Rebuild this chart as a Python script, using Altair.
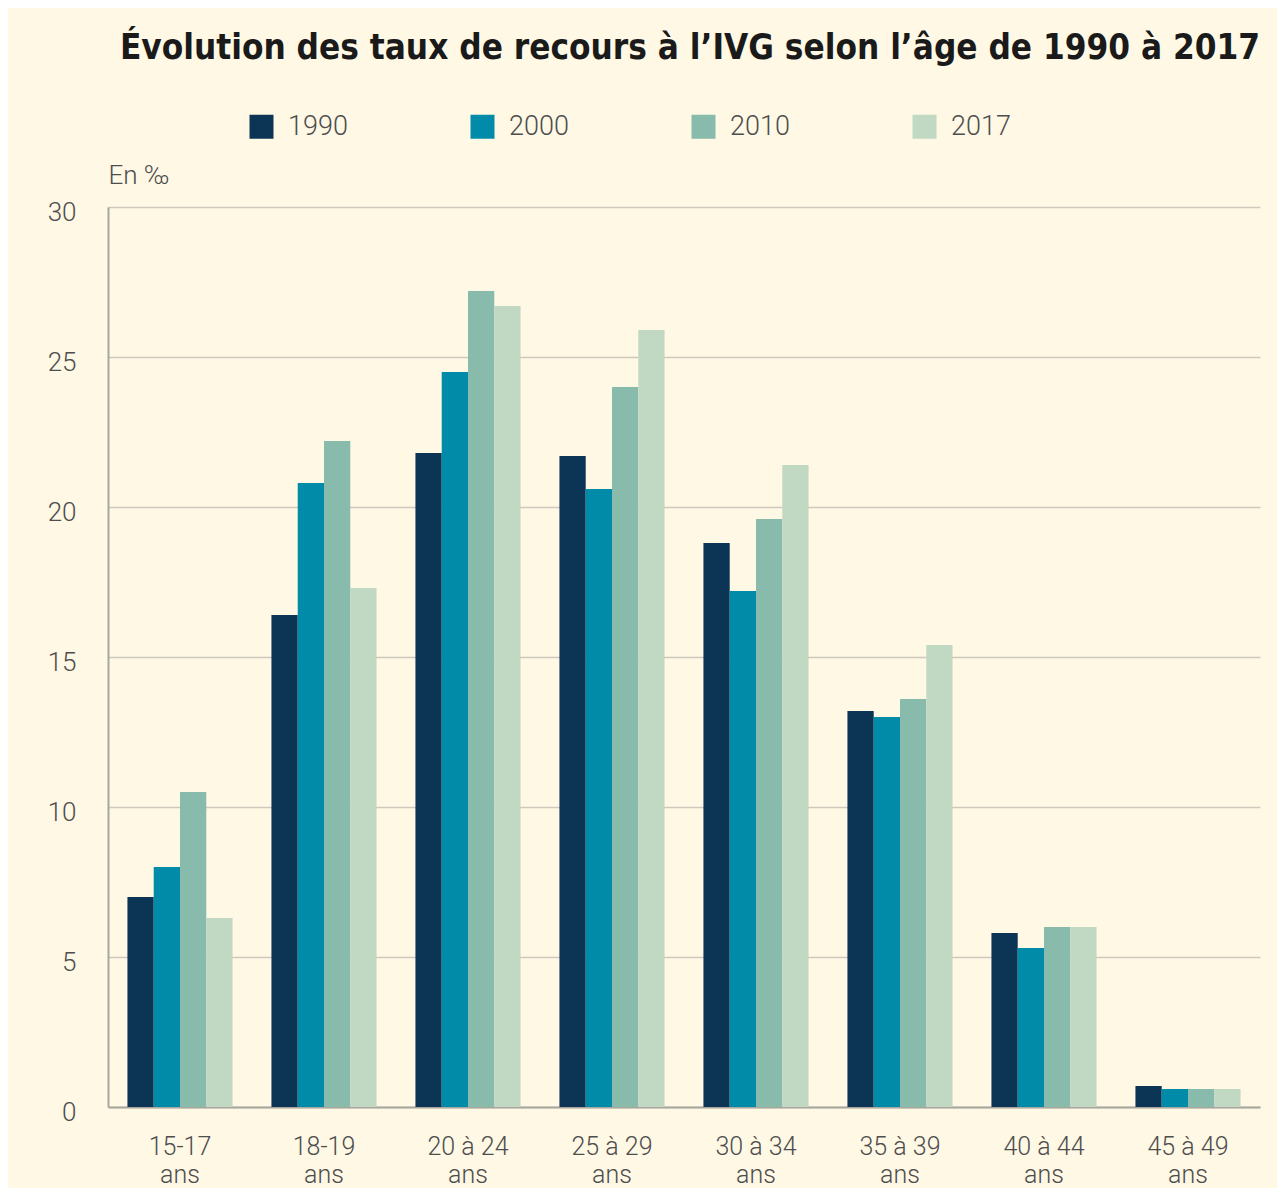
import altair as alt
import pandas as pd

ages = ["15-17 ans", "18-19 ans", "20 à 24 ans", "25 à 29 ans",
        "30 à 34 ans", "35 à 39 ans", "40 à 44 ans", "45 à 49 ans"]
years = ["1990", "2000", "2010", "2017"]
v1990 = [7.0, 16.4, 21.8, 21.7, 18.8, 13.2, 5.8, 0.7]
v2000 = [8.0, 20.8, 24.5, 20.6, 17.2, 13.0, 5.3, 0.6]
v2010 = [10.5, 22.2, 27.2, 24.0, 19.6, 13.6, 6.0, 0.6]
v2017 = [6.3, 17.3, 26.7, 25.9, 21.4, 15.4, 6.0, 0.6]
colors = ["#0c3555", "#018ba8", "#88bbab", "#c1d8c3"]

rows = []
for y, vals in zip(years, [v1990, v2000, v2010, v2017]):
    for a, v in zip(ages, vals):
        rows.append({"age": a, "annee": y, "taux": v})
df = pd.DataFrame(rows)

BG = "#fef8e5"
TXT = "#4d4d4d"
FONT = "Roboto"

chart = alt.Chart(df).mark_bar().encode(
    x=alt.X("age:N", sort=ages,
            scale=alt.Scale(paddingInner=0.27, paddingOuter=0.135),
            axis=alt.Axis(title=None, labelAngle=0, ticks=False,
                          labelExpr="[replace(datum.label, ' ans', ''), 'ans']",
                          labelLineHeight=28, labelPadding=27,
                          labelFontSize=25, labelFont=FONT, labelFontWeight=300,
                          labelColor=TXT, domainColor="#a8a69e", domainWidth=2,
                          grid=False)),
    xOffset=alt.XOffset("annee:N", sort=years),
    y=alt.Y("taux:Q", scale=alt.Scale(domain=[0, 30], nice=False),
            axis=alt.Axis(values=[0, 5, 10, 15, 20, 25, 30], ticks=False,
                          title="En ‰", titleAngle=0, titleX=0, titleY=-32,
                          titleAlign="left", titleBaseline="middle",
                          titleFont=FONT, titleFontSize=26, titleFontWeight=300,
                          titleColor=TXT,
                          labelFontSize=26, labelFont=FONT, labelFontWeight=300,
                          labelColor=TXT, labelPadding=32, labelOffset=5,
                          domainColor="#a8a69e", domainWidth=2,
                          gridColor="#cdc9bc", gridWidth=1.5)),
    color=alt.Color("annee:N", sort=years,
                    scale=alt.Scale(domain=years, range=colors),
                    legend=alt.Legend(title=None, orient="none", direction="horizontal",
                                      legendX=140, legendY=-94, columns=4,
                                      symbolType="square", symbolSize=576,
                                      symbolStrokeWidth=0, symbolOpacity=1,
                                      labelFont=FONT, labelFontSize=27,
                                      labelFontWeight=300, labelColor=TXT,
                                      labelOffset=13, columnPadding=121,
                                      padding=0)),
).properties(
    width=1152,
    height=900,
    title=alt.TitleParams(
        "Évolution des taux de recours à l’IVG selon l’âge de 1990 à 2017",
        font="Liberation Sans Narrow, DejaVu Sans Condensed, sans-serif",
        fontSize=34.8, fontWeight="bold", color="#1a1a1a",
        anchor="middle", dx=6, offset=46),
    autosize=alt.AutoSizeParams(type="none"),
    padding={"left": 100, "top": 199, "right": 17, "bottom": 81},
).configure(background=BG).configure_view(stroke=None)

chart.save("out.html", embed_options={"renderer": "svg", "actions": False})
